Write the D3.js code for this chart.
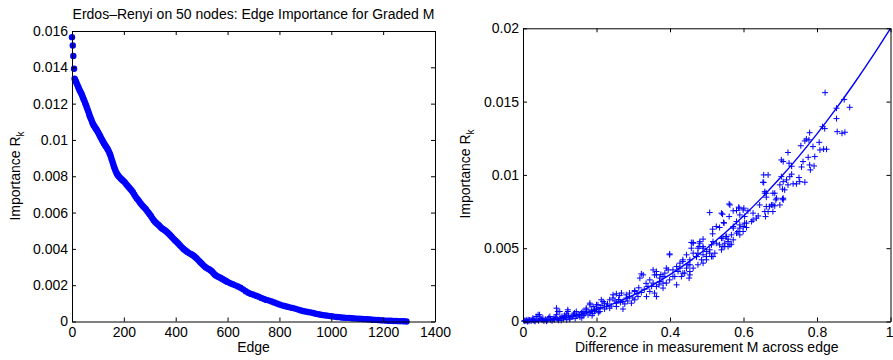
<!DOCTYPE html>
<html>
<head>
<meta charset="utf-8">
<script src="https://cdn.jsdelivr.net/npm/d3@7"></script>
<style>
  body { margin: 0; background: #fff; }
  svg text { font-family: "Liberation Sans", Arial, sans-serif; fill: #000; }
</style>
</head>
<body>
<svg id="chart" width="893" height="360"></svg>
<script>
/* ── Data: left panel, sorted edge importance [edge rank, R_k] ─────────── */
const edgeImportance = [
  [0,.01566],[3,.01520],[5,.01462],[8,.01392],[10,.01337],[12,.01330],[15,.01322],[18,.01312],
  [21,.01302],[24,.01292],[27,.01282],[30,.01272],[33,.01264],[36,.01256],[39,.01246],[42,.01234],
  [45,.01224],[48,.01214],[51,.01202],[54,.01192],[57,.01180],[60,.01168],[63,.01156],[66,.01143],
  [69,.01131],[72,.01120],[75,.01110],[78,.01098],[81,.01088],[84,.01080],[87,.01074],[90,.01066],
  [93,.01060],[96,.01054],[99,.01046],[102,.01038],[105,.01030],[108,.01022],[111,.01014],[114,.01005],
  [117,.00997],[120,.00990],[123,.00982],[126,.00975],[129,.00968],[132,.00962],[135,.00955],[138,.00948],
  [141,.00940],[144,.00930],[147,.00920],[150,.00908],[153,.00894],[156,.00880],[159,.00866],[162,.00853],
  [165,.00841],[168,.00830],[171,.00820],[174,.00812],[177,.00806],[180,.00800],[184,.00794],[188,.00788],
  [192,.00782],[196,.00777],[200,.00772],[205,.00764],[210,.00755],[215,.00746],[220,.00738],[225,.00730],
  [230,.00722],[235,.00712],[240,.00700],[245,.00688],[250,.00678],[255,.00670],[260,.00660],[265,.00650],
  [270,.00641],[275,.00633],[280,.00626],[285,.00618],[290,.00608],[295,.00599],[300,.00590],[305,.00580],
  [310,.00568],[315,.00558],[320,.00550],[325,.00543],[330,.00536],[335,.00530],[340,.00522],[345,.00515],
  [350,.00510],[355,.00505],[360,.00500],[365,.00494],[370,.00488],[375,.00481],[380,.00474],[385,.00466],
  [390,.00458],[395,.00450],[400,.00444],[405,.00437],[410,.00430],[415,.00422],[420,.00414],[425,.00407],
  [430,.00400],[435,.00394],[440,.00388],[445,.00383],[450,.00378],[455,.00374],[460,.00370],[465,.00366],
  [470,.00361],[475,.00355],[480,.00348],[485,.00341],[490,.00334],[495,.00327],[500,.00320],[505,.00312],
  [510,.00305],[515,.00299],[520,.00294],[525,.00290],[530,.00286],[535,.00281],[540,.00275],[545,.00267],
  [550,.00259],[555,.00253],[560,.00249],[565,.00246],[570,.00242],[575,.00238],[580,.00234],[585,.00230],
  [590,.00226],[595,.00222],[600,.00218],[610,.00211],[620,.00205],[630,.00199],[640,.00193],[650,.00186],
  [660,.00177],[670,.00167],[680,.00158],[690,.00152],[700,.00147],[710,.00142],[720,.00137],[730,.00130],
  [740,.00124],[750,.00119],[760,.00115],[770,.00110],[780,.00105],[790,.00099],[800,.00094],[810,.00089],
  [820,.00085],[830,.00081],[840,.00078],[850,.00075],[860,.00071],[870,.00067],[880,.00062],[890,.00058],
  [900,.00055],[910,.00052],[920,.00050],[930,.00047],[940,.00043],[950,.00040],[960,.00037],[970,.00035],
  [980,.00033],[990,.00031],[1000,.00029],[1010,.00027],[1020,.00025],[1030,.00024],[1040,.00022],[1050,.00021],
  [1060,.00020],[1070,.00019],[1080,.00018],[1090,.00017],[1100,.00016],[1110,.00015],[1120,.00014],[1130,.00013],
  [1140,.00012],[1150,.00011],[1160,.00010],[1170,.00009],[1180,.00008],[1190,.00007],[1200,.00006],[1210,.00005],
  [1220,.00004],[1230,.00004],[1240,.00003],[1250,.00003],[1260,.00002],[1270,.00002],[1280,.00001],[1290,0]
];

/* ── Data: right panel, [difference in M, R_k] per edge ───────────────── */
const diffScatter = [
  [0.822,0.01561],[0.874,0.01514],[0.889,0.01461],[0.853,0.01455],[0.853,0.01384],[0.855,0.01295],[0.876,0.01291],
  [0.868,0.01284],[0.815,0.01329],[0.821,0.01316],[0.780,0.01288],[0.778,0.01239],[0.767,0.01232],[0.771,0.01245],
  [0.806,0.01222],[0.808,0.0117],[0.826,0.01175],[0.818,0.01176],[0.789,0.01193],[0.756,0.01199],[0.721,0.01153],
  [0.794,0.01125],[0.776,0.0112],[0.762,0.01091],[0.780,0.01068],[0.792,0.01061],[0.782,0.01034],[0.758,0.01054],
  [0.731,0.01059],[0.724,0.0108],[0.708,0.01091],[0.703,0.01102],[0.731,0.01005],[0.726,0.00988],[0.751,0.00982],
  [0.753,0.00954],[0.767,0.0095],[0.735,0.00939],[0.717,0.00966],[0.703,0.00988],[0.667,0.01],[0.655,0.01],
  [0.653,0.0095],[0.699,0.00932],[0.706,0.00903],[0.712,0.00898],[0.680,0.00875],[0.662,0.00848],[0.662,0.00875],
  [0.658,0.00886],[0.688,0.0083],[0.706,0.00836],[0.708,0.00841],[0.680,0.00795],[0.685,0.00789],[0.671,0.00784],
  [0.644,0.00795],[0.658,0.0075],[0.667,0.0075],[0.660,0.00716],[0.640,0.0072],[0.626,0.00693],[0.622,0.00682],
  [0.601,0.00773],[0.588,0.00773],[0.581,0.00757],[0.572,0.00755],[0.563,0.00795],[0.603,0.00671],[0.608,0.00641],
  [0.599,0.00648],[0.590,0.00637],[0.599,0.00614],[0.581,0.00603],[0.572,0.00637],[0.567,0.00591],[0.552,0.0058],
  [0.558,0.00562],[0.540,0.00568],[0.517,0.00545],[0.549,0.00534],[0.535,0.00523],[0.544,0.00511],[0.558,0.00511],
  [0.567,0.00527],[0.508,0.00743],[0.543,0.00732],[0.546,0.00675],[0.561,0.00802],[0.561,0.00716],[0.526,0.00648],
  [0.516,0.0063],[0.516,0.00598],[0.490,0.00562],[0.481,0.00534],[0.479,0.00511],[0.490,0.005],[0.508,0.00466],
  [0.517,0.00443],[0.499,0.00443],[0.476,0.00466],[0.463,0.00539],[0.458,0.005],[0.445,0.00455],[0.472,0.00443],
  [0.399,0.00461],[0.655,0.00948],[0.708,0.00954],[0.721,0.00932],[0.744,0.00939],[0.685,0.00875],[0.658,0.00875],
  [0.690,0.00841],[0.708,0.0083],[0.699,0.00795],[0.676,0.00795],[0.662,0.00784],[0.680,0.0075],[0.587,0.0078],
  [0.599,0.00761],[0.612,0.00755],[0.626,0.00739],[0.635,0.00705],[0.603,0.00716],[0.590,0.00727],[0.581,0.00682],
  [0.590,0.00659],[0.608,0.00671],[0.572,0.00648],[0.585,0.00614],[0.590,0.00591],[0.554,0.0058],[0.572,0.00557],
  [0.558,0.00545],[0.544,0.00568],[0.563,0.00523],[0.549,0.00511],[0.540,0.00489],[0.526,0.00534],[0.513,0.00523],
  [0.508,0.00489],[0.522,0.00466],[0.513,0.00443],[0.499,0.00477],[0.490,0.00511],[0.481,0.00545],[0.463,0.00534],
  [0.476,0.005],[0.490,0.00455],[0.499,0.00421],[0.486,0.00421],[0.472,0.00443],[0.463,0.00466],[0.454,0.00421],
  [0.476,0.00387],[0.463,0.00364],[0.449,0.00387],[0.435,0.00409],[0.445,0.00364],[0.454,0.00341],[0.440,0.0033],
  [0.427,0.00364],[0.422,0.00341],[0.408,0.00352],[0.431,0.00307],[0.452,0.00296],[0.413,0.00307],[0.540,0.00739],
  [0.547,0.00671],[0.535,0.00641],[0.458,0.00539],[0.390,0.00364],[0.386,0.0033],[0.363,0.00341],[0.358,0.00318],
  [0.327,0.00318],[0.372,0.00296],[0.322,0.00325],[0.318,0.00296],[0.345,0.00284],[0.354,0.00262],[0.340,0.00239],
  [0.363,0.00239],[0.381,0.00228],[0.390,0.00262],[0.399,0.00284],[0.372,0.00273],[0.358,0.00194],[0.399,0.00455],
  [0.322,0.00198],[0.304,0.00211],[0.290,0.00194],[0.313,0.0017],[0.299,0.0016],[0.281,0.0016],[0.268,0.00194],
  [0.254,0.00189],[0.245,0.0016],[0.272,0.00136],[0.254,0.00125],[0.236,0.00148],[0.222,0.00125],[0.227,0.00102],
  [0.213,0.00148],[0.204,0.00114],[0.191,0.00102],[0.195,0.0008],[0.182,0.00125],[0.172,0.00091],[0.163,0.00068],
  [0.145,0.00068],[0.122,0.00068],[0.118,0.00052],[0.095,0.00068],[0.091,0.00046],[0.073,0.00034],[0.054,0.00023],
  [0.045,0.00046],[0.027,0.00023],[0.014,0.00012],[0.005,0.00007],[0.154,0.00046],[0.136,0.00034],[0.109,0.00023],
  [0.082,0.00016],[0.127,0.00016],[0.209,0.00068],[0.222,0.00085],[0.236,0.00091],[0.254,0.00102],[0.277,0.0012],
  [0.295,0.00125],[0.304,0.00148],[0.336,0.0017],[0.345,0.00205],[0.363,0.0017],[0.381,0.00262],[0.395,0.00352],
  [0.418,0.00375],[0.427,0.00398],[0.435,0.00421],[0.454,0.00387],[0.472,0.00443],[0.490,0.00398],[0.454,0.00318],
  [0.435,0.0033],[0.418,0.0025],[0.408,0.00307],[0.381,0.00307],[0.363,0.00318],[0.354,0.00352],[0.272,0.00085],
  [0.036,0.00034],[0.091,0.00091],[0.041,0.00046],[0.122,0.0008],[0.100,0.00068],[0.245,0.00182],[0.263,0.00177],
  [0.281,0.00182],[0.304,0.00205],[0.200,0.00114],[0.182,0.00114],[0.172,0.0008],[0.218,0.00136],
  [0.003,0.00002],[0.008,0.00005],[0.012,0],[0.018,0.0001],[0.022,0.00003],[0.028,0.00008],[0.033,0.00001],
  [0.038,0.00012],[0.042,0.00005],[0.047,0.0002],[0.052,0.0001],[0.057,0.00003],[0.061,0.00015],[0.066,0.00008],
  [0.070,0.00025],[0.075,0.00012],[0.079,0.00005],[0.084,0.0002],[0.088,0.0003],[0.093,0.00015],[0.097,0.00008],
  [0.101,0.00025],[0.106,0.00035],[0.110,0.00018],[0.115,0.0003],[0.119,0.00012],[0.124,0.0004],[0.128,0.00025],
  [0.133,0.00032],[0.137,0.0005],[0.142,0.0002],[0.146,0.00038],[0.150,0.00045],[0.155,0.0003],[0.159,0.0006],
  [0.164,0.0004],[0.168,0.00052],[0.173,0.0007],[0.177,0.00045],[0.182,0.0006],[0.186,0.00078],[0.190,0.00055],
  [0.195,0.00068],[0.200,0.0009],[0.205,0.0006],[0.010,0.00008],[0.016,0.00002],[0.025,0.00012],[0.031,0.00006],
  [0.050,0.00016],[0.064,0.00002],[0.086,0.00012],[0.104,0.00008],[0.113,0.00042],[0.140,0.00058],[0.160,0.00025],
  [0.188,0.0004],[0.210,0.00095],[0.215,0.0011],[0.230,0.0012],[0.240,0.00105],[0.250,0.0014],[0.260,0.0015],
  [0.265,0.0013],[0.285,0.0014],[0.290,0.0017],[0.310,0.0019],[0.315,0.0023],[0.330,0.0022],[0.335,0.0026],
  [0.350,0.0024],[0.370,0.0025],[0.375,0.0032]
];

/* ── Data: fitted curve on the right panel ────────────────────────────── */
const fitX = [0,0.05,0.1,0.15,0.2,0.25,0.3,0.35,0.4,0.45,0.5,0.55,0.6,0.65,0.7,0.75,0.8,0.85,0.9,0.95,1];
const fitY = [0,0.00005,0.0002,0.00045,0.0008,0.00125,0.0018,0.00245,0.0032,0.00405,0.005,0.00605,
              0.0072,0.00845,0.0098,0.01125,0.0128,0.01445,0.0162,0.01805,0.02];

/* ── Ticks & labels ───────────────────────────────────────────────────── */
const leftXTicks  = [0,200,400,600,800,1000,1200,1400];
const leftXLabels = ['0','200','400','600','800','1000','1200','1400'];
const leftYTicks  = [0,0.002,0.004,0.006,0.008,0.01,0.012,0.014,0.016];
const leftYLabels = ['0','0.002','0.004','0.006','0.008','0.01','0.012','0.014','0.016'];
const rightXTicks  = [0,0.2,0.4,0.6,0.8,1];
const rightXLabels = ['0','0.2','0.4','0.6','0.8','1'];
const rightYTicks  = [0,0.005,0.01,0.015,0.02];
const rightYLabels = ['0','0.005','0.01','0.015','0.02'];

const TITLE  = 'Erdos\u2013Renyi on 50 nodes: Edge Importance for Graded M';
const BLUE   = '#0000ff';
const FONT   = 14;
const W      = 893;

const svg = d3.select('#chart');

/* ── Box axes, MATLAB style: ticks inside on all four sides ───────────── */
function drawBox(x, y, xt, xl, yt, yl) {
  const [x0, x1] = x.range(), [y0, y1] = y.range();
  const style = g => {
    g.attr('font-size', FONT).attr('font-family', null);
    g.selectAll('path.domain').attr('stroke', '#000');
    g.selectAll('.tick line').attr('stroke', '#000');
  };
  const bottom = svg.append('g').attr('transform', `translate(0,${y0})`)
    .call(d3.axisBottom(x).tickValues(xt).tickFormat((d, i) => xl[i]).tickSizeInner(-4).tickSizeOuter(0).tickPadding(6))
    .call(style);
  // keep a label that would run past the page edge inside it
  bottom.selectAll('.tick').each(function (d) {
    const t = d3.select(this).select('text');
    const right = x(d) + this.querySelector('text').getComputedTextLength() / 2;
    if (right > W) t.attr('text-anchor', 'end').attr('x', W - x(d));
  });
  svg.append('g').attr('transform', `translate(0,${y1})`)
    .call(d3.axisTop(x).tickValues(xt).tickFormat('').tickSizeInner(-4).tickSizeOuter(0))
    .call(style);
  svg.append('g').attr('transform', `translate(${x0},0)`)
    .call(d3.axisLeft(y).tickValues(yt).tickFormat((d, i) => yl[i]).tickSizeInner(-4).tickSizeOuter(0).tickPadding(4))
    .call(style);
  svg.append('g').attr('transform', `translate(${x1},0)`)
    .call(d3.axisRight(y).tickValues(yt).tickFormat('').tickSizeInner(-4).tickSizeOuter(0))
    .call(style);
}

function yLabel(cx, cy) {
  const t = svg.append('text')
    .attr('transform', `translate(${cx},${cy}) rotate(-90)`)
    .attr('text-anchor', 'middle').attr('font-size', FONT);
  t.append('tspan').text('Importance R');
  t.append('tspan').attr('font-size', 10).attr('dy', 4).text('k');
}

/* ── Left panel ───────────────────────────────────────────────────────── */
const xL = d3.scaleLinear().domain([0, 1400]).range([72, 435]);
const yL = d3.scaleLinear().domain([0, 0.016]).range([321.5, 31]);

svg.append('g').selectAll('circle').data(edgeImportance).join('circle')
  .attr('cx', d => xL(d[0])).attr('cy', d => yL(d[1])).attr('r', 3.2)
  .attr('fill', BLUE);

drawBox(xL, yL, leftXTicks, leftXLabels, leftYTicks, leftYLabels);

svg.append('text').attr('x', (72 + 435) / 2).attr('y', 19).attr('text-anchor', 'middle')
  .attr('font-size', FONT).text(TITLE);
svg.append('text').attr('x', (72 + 435) / 2).attr('y', 352).attr('text-anchor', 'middle')
  .attr('font-size', FONT).text('Edge');
yLabel(19.5, 176);

/* ── Right panel ──────────────────────────────────────────────────────── */
const xR = d3.scaleLinear().domain([0, 1]).range([523, 890.5]);
const yR = d3.scaleLinear().domain([0, 0.02]).range([321.5, 28.3]);

svg.append('g').selectAll('path').data(diffScatter).join('path')
  .attr('d', d => {
    const px = xR(d[0]), py = yR(d[1]);
    return `M${px - 3},${py}H${px + 3}M${px},${py - 3}V${py + 3}`;
  })
  .attr('stroke', BLUE).attr('stroke-width', 1).attr('fill', 'none');

svg.append('path').datum(fitX.map((v, i) => [v, fitY[i]]))
  .attr('d', d3.line().x(d => xR(d[0])).y(d => yR(d[1])).curve(d3.curveMonotoneX))
  .attr('fill', 'none').attr('stroke', BLUE).attr('stroke-width', 1.4);

drawBox(xR, yR, rightXTicks, rightXLabels, rightYTicks, rightYLabels);

svg.append('text').attr('x', (523 + 890.5) / 2).attr('y', 352).attr('text-anchor', 'middle')
  .attr('font-size', FONT).text('Difference in measurement M across edge');
yLabel(470, 174);
</script>
</body>
</html>
